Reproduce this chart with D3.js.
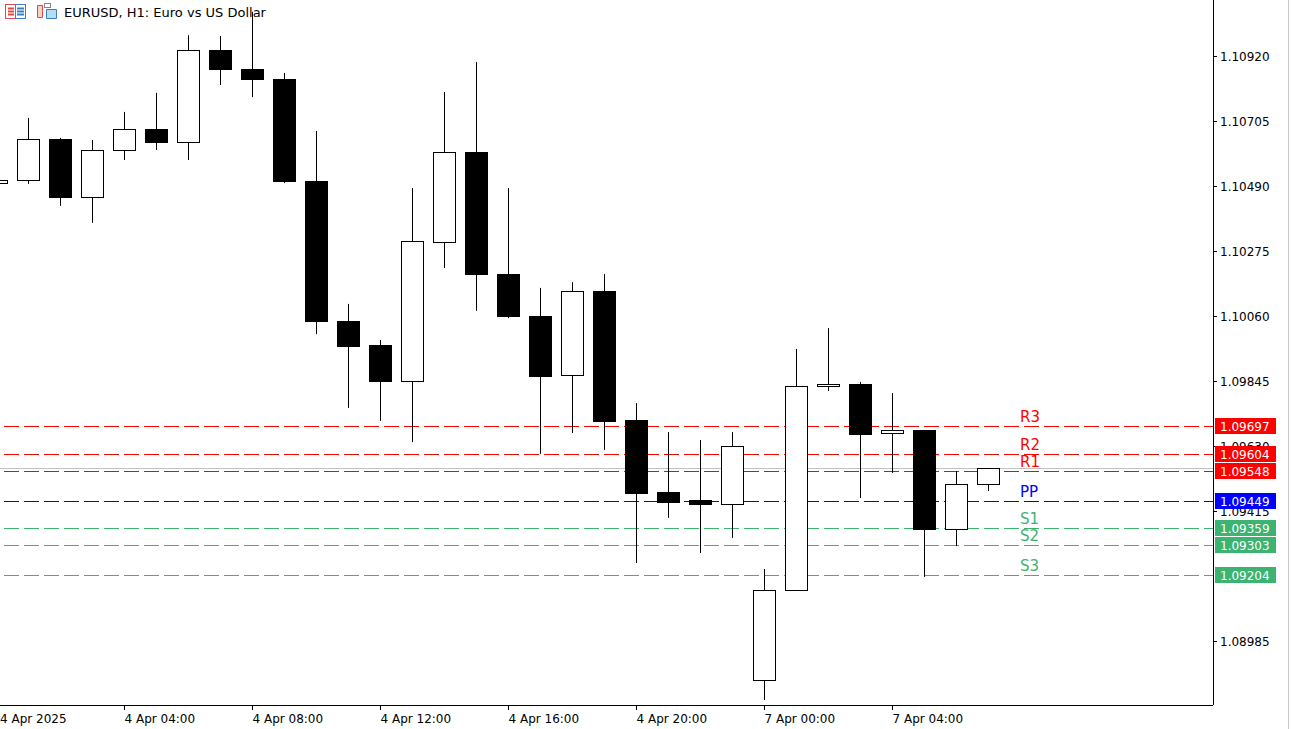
<!DOCTYPE html>
<html><head><meta charset="utf-8">
<script src="https://cdn.jsdelivr.net/npm/d3@7"></script>
<style>body{margin:0;background:#fff;overflow:hidden}svg{display:block}text{font-family:"DejaVu Sans",sans-serif}</style>
</head><body><svg id="c" width="1291" height="729"></svg>
<script>
const opens  = [1.10500,1.10510,1.10645,1.10454,1.10609,1.10679,1.10636,1.10940,1.10877,1.10844,1.10507,1.10043,1.09964,1.09845,1.10305,1.10602,1.10199,1.10060,1.09865,1.10143,1.09716,1.09478,1.09451,1.09438,1.08856,1.09154,1.09828,1.09835,1.09673,1.09683,1.09355,1.09504];
const closes = [1.10510,1.10645,1.10454,1.10609,1.10679,1.10636,1.10940,1.10877,1.10844,1.10507,1.10043,1.09961,1.09845,1.10308,1.10602,1.10199,1.10060,1.09862,1.10143,1.09713,1.09475,1.09445,1.09438,1.09630,1.09154,1.09828,1.09835,1.09670,1.09683,1.09355,1.09504,1.09557];
const highs  = [1.10513,1.10715,1.10649,1.10642,1.10735,1.10798,1.10989,1.10986,1.11066,1.10864,1.10672,1.10100,1.09981,1.10483,1.10801,1.10900,1.10483,1.10153,1.10172,1.10199,1.09772,1.09676,1.09650,1.09676,1.09223,1.09951,1.10020,1.09842,1.09805,1.09683,1.09547,1.09557];
const lows   = [1.10497,1.10497,1.10424,1.10368,1.10576,1.10609,1.10576,1.10824,1.10784,1.10500,1.10000,1.09756,1.09713,1.09643,1.10219,1.10077,1.10053,1.09604,1.09673,1.09617,1.09243,1.09392,1.09276,1.09326,1.08790,1.09154,1.09812,1.09458,1.09541,1.09197,1.09299,1.09481];
const priceTicks = [1.10920,1.10705,1.10490,1.10275,1.10060,1.09845,1.09630,1.09415,1.08985];
const timeTickIdx = [0,4,8,12,16,20,24,28];
const timeTickLabels = ["4 Apr 2025","4 Apr 04:00","4 Apr 08:00","4 Apr 12:00","4 Apr 16:00","4 Apr 20:00","7 Apr 00:00","7 Apr 04:00"];
const pivotNames = ["R3","R2","R1","PP","S1","S2","S3"];
const pivotValues = [1.09697,1.09604,1.09548,1.09449,1.09359,1.09303,1.09204];
const pivotColors = ["#ff0000","#ff0000","#ff0000","#0000ff","#3cb371","#3cb371","#3cb371"];
const bidPrice = 1.09557;

const svg = d3.select("#c");
const W = 1213, H = 705;
const y = d3.scaleLinear().domain([1.10920,1.08985]).range([56,641]);
const x = d3.scaleLinear().domain([0,1]).range([-4,28]);

svg.append("line").attr("x1",0).attr("x2",W).attr("y1",Math.round(y(bidPrice))+0.5).attr("y2",Math.round(y(bidPrice))+0.5).attr("stroke","#c0c0c0");

pivotValues.forEach((v,i)=>{
  const yy = Math.round(y(v))+0.5;
  svg.append("line").attr("x1",0).attr("x2",W).attr("y1",yy).attr("y2",yy)
    .attr("stroke",pivotColors[i]).attr("stroke-dasharray","15,5").attr("stroke-dashoffset",-4);
  svg.append("text").attr("x",1020).attr("y",yy-5).attr("fill",pivotColors[i]).attr("font-size",15).text(pivotNames[i]);
});

const g = svg.append("g");
opens.forEach((o,i)=>{
  const cx = Math.round(x(i))+0.5, c = closes[i];
  const top = Math.round(y(Math.max(o,c))), bot = Math.round(y(Math.min(o,c)));
  g.append("line").attr("x1",cx).attr("x2",cx).attr("y1",y(highs[i])).attr("y2",y(lows[i])).attr("stroke","#000").attr("stroke-width",1);
  g.append("rect").attr("x",cx-11).attr("y",top+0.5).attr("width",22).attr("height",Math.max(1,bot-top))
    .attr("fill",c>=o?"#fff":"#000").attr("stroke","#000").attr("stroke-width",1);
});

svg.append("rect").attr("x",W).attr("y",0).attr("width",1291-W).attr("height",729).attr("fill","#fff");
svg.append("rect").attr("x",0).attr("y",H).attr("width",W).attr("height",729-H).attr("fill","#fff");

svg.append("line").attr("x1",W+0.5).attr("x2",W+0.5).attr("y1",0).attr("y2",H).attr("stroke","#000");
svg.append("line").attr("x1",0).attr("x2",W).attr("y1",H+0.5).attr("y2",H+0.5).attr("stroke","#000");
svg.append("line").attr("x1",1288.5).attr("x2",1288.5).attr("y1",0).attr("y2",729).attr("stroke","#c8c8c8");

priceTicks.forEach(p=>{
  const yy = Math.round(y(p))+0.5;
  svg.append("line").attr("x1",W).attr("x2",W+4).attr("y1",yy).attr("y2",yy).attr("stroke","#000");
  svg.append("text").attr("x",1220).attr("y",yy+4).attr("font-size",12).attr("fill","#000").text(p.toFixed(5));
});

pivotValues.forEach((v,i)=>{
  const yy = Math.round(y(v));
  svg.append("rect").attr("x",1215).attr("y",yy-8).attr("width",61).attr("height",16).attr("fill",pivotColors[i]);
  svg.append("text").attr("x",1220).attr("y",yy+5).attr("font-size",12).attr("fill","#fff").text(v.toFixed(5));
});

timeTickIdx.forEach((t,i)=>{
  const xx = Math.round(x(t))+0.5;
  svg.append("line").attr("x1",xx).attr("x2",xx).attr("y1",H).attr("y2",H+5).attr("stroke","#000");
  svg.append("text").attr("x",Math.max(0,xx)).attr("y",723).attr("font-size",12).attr("fill","#000").text(timeTickLabels[i]);
});

const ic = svg.append("g");
ic.append("rect").attr("x",5.5).attr("y",4.5).attr("width",20).attr("height",14).attr("fill","#fff").attr("stroke","#3a7fc8");
ic.append("rect").attr("x",5.5).attr("y",4.5).attr("width",10).attr("height",14).attr("fill","#fff").attr("stroke","#e04848");
[8,11,14].forEach(yy=>{ic.append("line").attr("x1",8).attr("x2",14).attr("y1",yy+0.5).attr("y2",yy+0.5).attr("stroke","#e04848").attr("stroke-width",2);
 ic.append("line").attr("x1",17).attr("x2",24).attr("y1",yy+0.5).attr("y2",yy+0.5).attr("stroke","#3a7fc8").attr("stroke-width",2);});
ic.append("path").attr("d","M37.5,5.5 h5 v12 h-5 z").attr("fill","#f8d0c8").attr("stroke","#e04848");
ic.append("path").attr("d","M46.5,9.5 h10 v9 h-10 z").attr("fill","#b8dcf4").attr("stroke","#3a7fc8");
ic.append("rect").attr("x",44.5).attr("y",3.5).attr("width",6).attr("height",4).attr("fill","#fff").attr("stroke","#888");
svg.append("text").attr("x",64).attr("y",17).attr("font-size",13).attr("fill","#000").text("EURUSD, H1:  Euro vs US Dollar");
</script></body></html>
